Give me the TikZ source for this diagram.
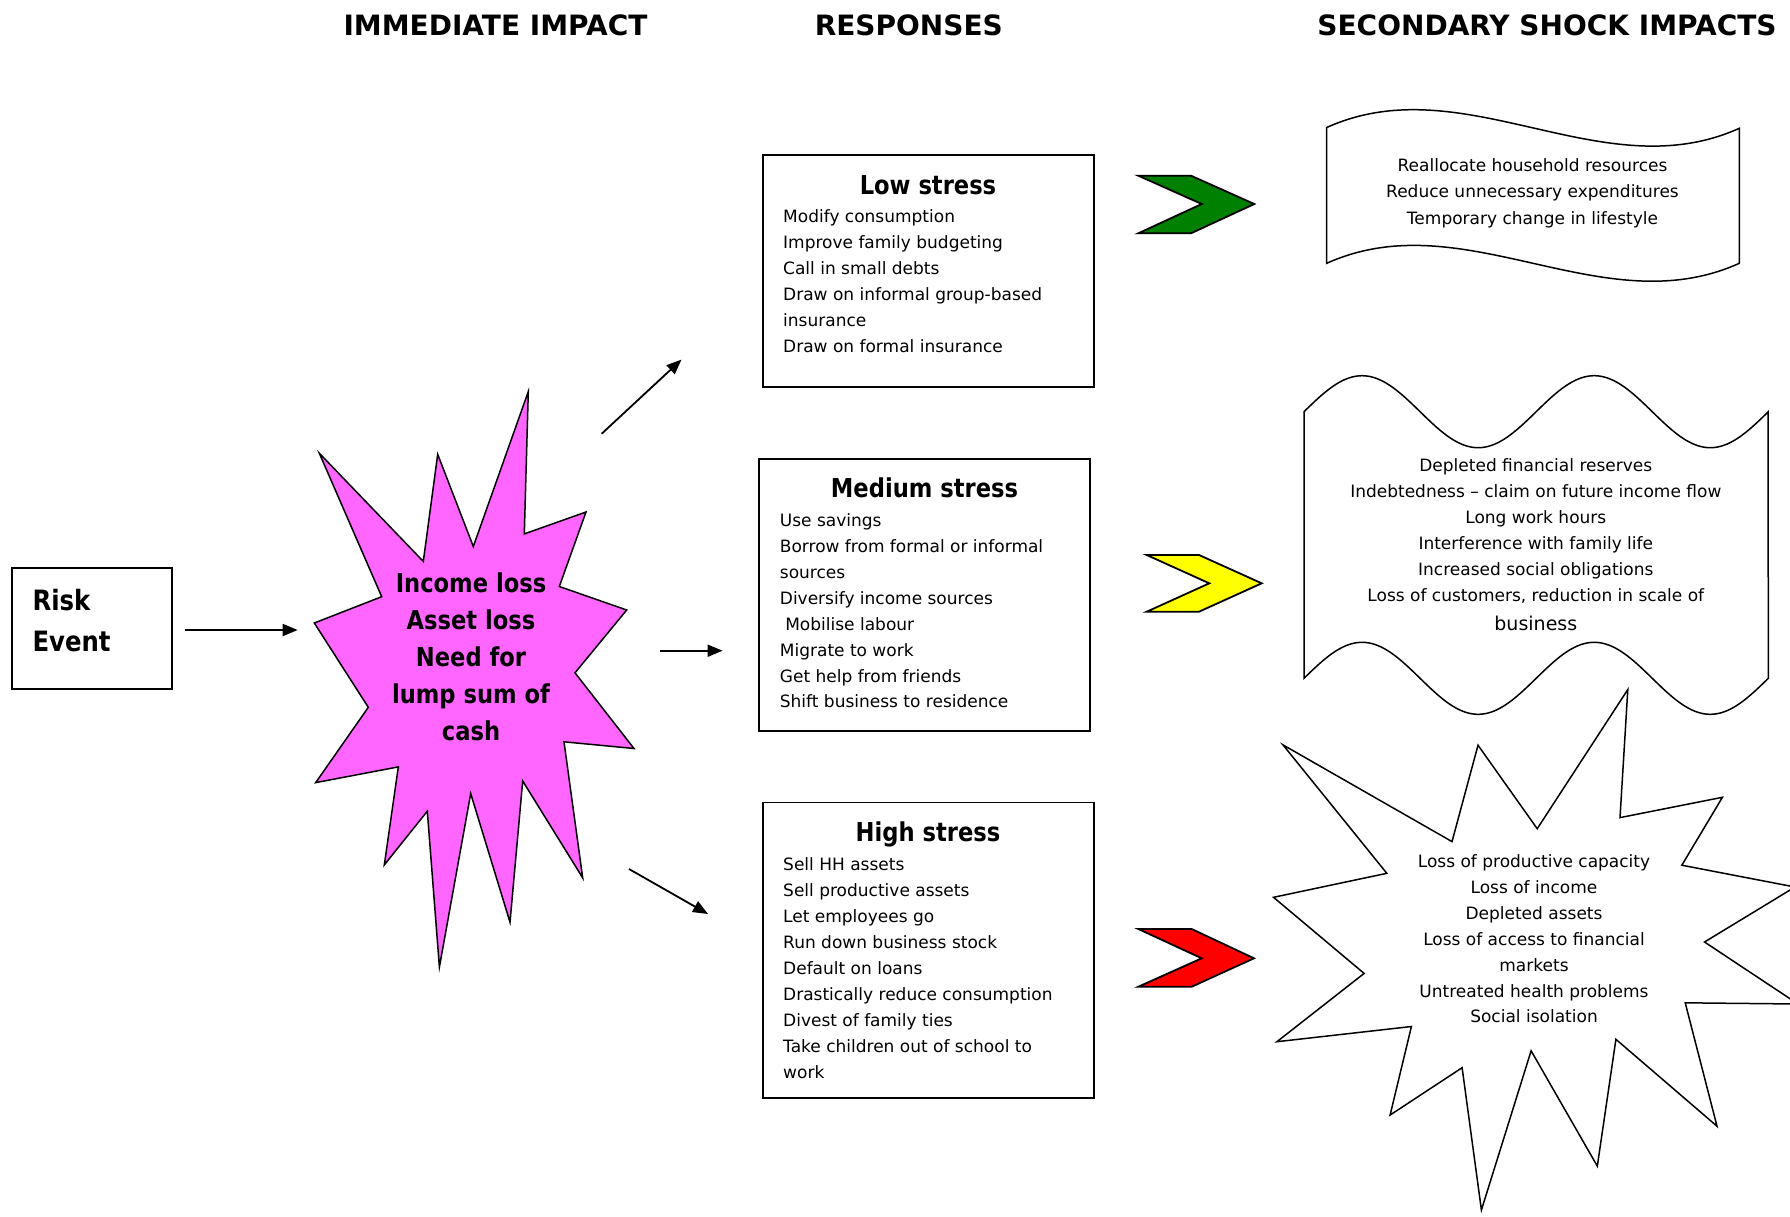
\documentclass[tikz,border=0pt]{standalone}
\usepackage{fontspec}
\setmainfont{DejaVu Sans}
\newfontfamily\cbold[FakeStretch=0.87]{DejaVu Sans}
\usetikzlibrary{arrows.meta}
\definecolor{starmagenta}{RGB}{255,102,255}
\definecolor{chevgreen}{RGB}{0,128,0}
\definecolor{chevyellow}{RGB}{255,255,0}
\definecolor{chevred}{RGB}{255,0,0}
\begin{document}
\begin{tikzpicture}[x=1pt,y=-1pt,
  heading/.style={font=\fontsize{28}{34}\selectfont\bfseries, inner sep=0pt, anchor=base},
  boldtxt/.style={font=\cbold\fontsize{26}{32}\selectfont\bfseries, inner sep=0pt, anchor=base},
  risktxt/.style={font=\cbold\fontsize{28}{34}\selectfont\bfseries, inner sep=0pt, anchor=base west},
  item/.style={font=\fontsize{17}{26}\selectfont, inner sep=0pt, anchor=base west},
  citem/.style={font=\fontsize{17}{26}\selectfont, inner sep=0pt, anchor=base},
  boxline/.style={draw=black, line width=1.8pt},
  shapeline/.style={draw=black, line width=1.5pt, line join=miter},
  chevron/.style={draw=black, line width=1.8pt, line join=miter},
  arr/.style={line width=1.8pt, -{Triangle[length=15pt,width=12pt]}}
]
\useasboundingbox (0,0) rectangle (1790,1216);
\clip (0,0) rectangle (1790,1216);
\fill[white] (0,0) rectangle (1790,1216);

% headings
\node[heading] (h1) at (495.5,35) {IMMEDIATE IMPACT};
\node[heading] (h2) at (908.8,35) {RESPONSES};
\node[heading] (h3) at (1547,35) {SECONDARY SHOCK IMPACTS};

% risk event
\draw[boxline] (11.7,568.3) rectangle (171.7,689);
\node[risktxt] (risk1) at (32.3,610.7) {Risk};
\node[risktxt] (risk2) at (32.3,651.7) {Event};

% magenta starburst
\filldraw[fill=starmagenta, shapeline]
 (319.3,453.2) -- (423.3,561.4) -- (437.7,454.3) -- (473.3,546.5) -- (528.3,391.6)
 -- (524.3,533.9) -- (586,512) -- (559.3,586.5) -- (626.7,610) -- (575,672.8)
 -- (634,748.5) -- (564,741.8) -- (582.7,877.9) -- (522.7,781) -- (510,922.2)
 -- (470.7,793.6) -- (439.4,967) -- (427.3,811.2) -- (384.3,864.9) -- (398.3,766.9)
 -- (315.7,782.6) -- (368.3,707.3) -- (314.3,623) -- (381.7,596.7) -- cycle;
\foreach \t [count=\i from 0] in {Income loss, Asset loss, Need for, lump sum of, cash}
  \node[boldtxt] (imp\i) at (471,592.5+37.1*\i) {\t};

% arrows
\coordinate (a0s) at (185,630);   \coordinate (a0e) at (297.7,630);
\coordinate (a1s) at (601.6,433.8); \coordinate (a1e) at (681.5,359.6);
\coordinate (a2s) at (659.8,650.7); \coordinate (a2e) at (722.6,650.7);
\coordinate (a3s) at (629,869);   \coordinate (a3e) at (708,914);
\draw[arr] (a0s) -- (a0e);
\draw[arr] (a1s) -- (a1e);
\draw[arr] (a2s) -- (a2e);
\draw[arr] (a3s) -- (a3e);

% response boxes
\draw[boxline] (762.6,155.3) rectangle (1093.7,387);
\node[boldtxt] (lowT) at (928,194) {Low stress};
\foreach \t [count=\i from 0] in {Modify consumption, Improve family budgeting, Call in small debts, Draw on informal group-based, insurance, Draw on formal insurance}
  \node[item] (low\i) at (783,222+26.1*\i) {\t};

\draw[boxline] (759,459) rectangle (1090,730.6);
\node[boldtxt] (medT) at (924.5,497.7) {Medium stress};
\foreach \t [count=\i from 0] in {Use savings, Borrow from formal or informal, sources, Diversify income sources, \ Mobilise labour, Migrate to work, Get help from friends, Shift business to residence}
  \node[item] (med\i) at (779.7,526.6+25.9*\i) {\t};

\draw[boxline] (762.6,802.5) rectangle (1093.7,1098);
\node[boldtxt] (highT) at (928,841.4) {High stress};
\foreach \t [count=\i from 0] in {Sell HH assets, Sell productive assets, Let employees go, Run down business stock, Default on loans, Drastically reduce consumption, Divest of family ties, Take children out of school to, work}
  \node[item] (high\i) at (783,870.2+26*\i) {\t};

% chevrons
\filldraw[fill=chevgreen, chevron] (1138.3,175.7) -- (1191,175.7) -- (1254.3,204) -- (1191,233.3) -- (1138.3,233.3) -- (1201.7,204) -- cycle;
\filldraw[fill=chevyellow, chevron] (1146.7,555) -- (1199,555) -- (1261.7,583.3) -- (1199,611.7) -- (1146.7,611.7) -- (1209.3,583.3) -- cycle;
\filldraw[fill=chevred, chevron] (1138.3,929) -- (1191.7,929) -- (1254,958.3) -- (1191.7,986.7) -- (1138.3,986.7) -- (1201.7,958.3) -- cycle;

% single wave
\filldraw[fill=white, shapeline] (1326.7,127.5) .. controls (1464.2,65.5) and (1601.8,190.3) .. (1739.3,128.3)
  -- (1739.3,263.3) .. controls (1601.8,325.3) and (1464.2,201.3) .. (1326.7,263.3) -- cycle;
\foreach \t [count=\i from 0] in {Reallocate household resources, Reduce unnecessary expenditures, Temporary change in lifestyle}
  \node[citem] (sec1\i) at (1532.5,171.5+26.25*\i) {\t};

% double wave
\filldraw[fill=white, shapeline] plot[domain=0:1, samples=160] ({1304+464.3*\x},{411.7-36*sin(720*\x)})
  -- plot[domain=1:0, samples=160] ({1304+464.3*\x},{678.3-36*sin(720*\x)}) -- cycle;
\foreach \t [count=\i from 0] in {Depleted financial reserves, Indebtedness – claim on future income flow, Long work hours, Interference with family life, Increased social obligations, {Loss of customers, reduction in scale of}}
  \node[citem] (sec2\i) at (1535.8,471.8+26*\i) {\t};
\node[citem, font=\fontsize{19}{26}\selectfont] (sec2b) at (1535.8,630.5) {business};

% white starburst
\filldraw[fill=white, shapeline]
 (1283,744.9) -- (1452,841.6) -- (1478,745.2) -- (1537.2,828.7) -- (1627.8,689.5)
 -- (1620,817.6) -- (1722.4,797.3) -- (1681.8,865.2) -- (1795,887) -- (1704.5,942)
 -- (1798,1004) -- (1685.2,1002.8) -- (1717,1126.2) -- (1615.9,1039.3) -- (1597.3,1166.1)
 -- (1531.1,1050.8) -- (1481.4,1210) -- (1462.1,1067.7) -- (1390.1,1115) -- (1411.4,1026.5)
 -- (1276.9,1041.7) -- (1364.1,973.4) -- (1273.5,897.3) -- (1386.8,873.3) -- cycle;
\foreach \t [count=\i from 0] in {Loss of productive capacity, Loss of income, Depleted assets, Loss of access to financial, markets, Untreated health problems, Social isolation}
  \node[citem] (sec3\i) at (1534,867.5+25.9*\i) {\t};
\end{tikzpicture}
\end{document}
